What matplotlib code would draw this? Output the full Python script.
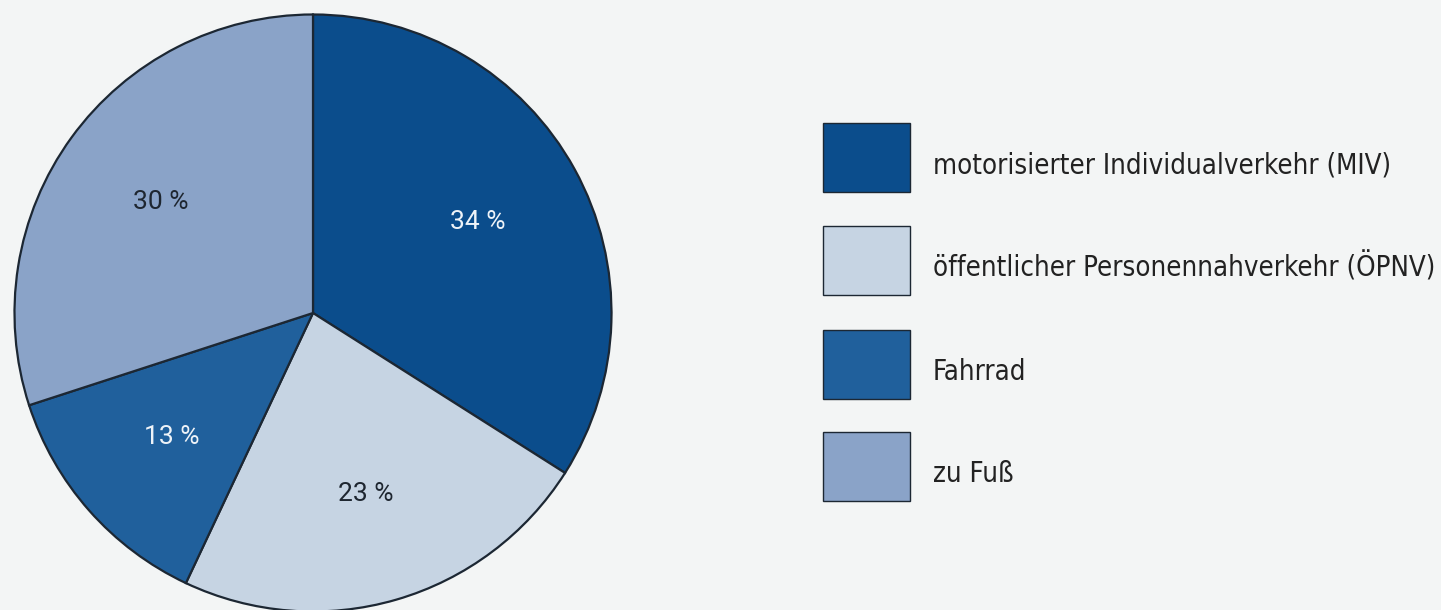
import matplotlib.pyplot as plt
from matplotlib.patches import Rectangle
from matplotlib import font_manager

# data
categories = ['motorisierter Individualverkehr (MIV)',
              'öffentlicher Personennahverkehr (ÖPNV)',
              'Fahrrad',
              'zu Fuß']
shares = [34, 23, 13, 30]
colors = ['#0b4d8c', '#c6d4e3', '#20609c', '#8aa3c8']
text_colors = ['#eef3f8', '#1e2630', '#eef3f8', '#1e2630']

bg = '#f3f5f5'
edge = '#1c2733'

# condensed face for the legend, the original uses one
cond = [f for f in font_manager.fontManager.ttflist
        if ('condensed' in f.fname.lower() or 'narrow' in f.fname.lower())
        and f.weight in (400, 'normal', 'regular') and f.style == 'normal']
if cond:
    legend_prop = font_manager.FontProperties(fname=cond[0].fname, size=19.8)
else:
    legend_prop = font_manager.FontProperties(family='Roboto', size=17)

W, H = 1441, 610
fig = plt.figure(figsize=(W / 100, H / 100), dpi=100, facecolor=bg)

# pie axes: centre at (313, 313) px from top, radius 300 px
ax = fig.add_axes([13 / W, -3 / H, 600 / W, 600 / H])
ax.set_facecolor(bg)
wedges, texts, autotexts = ax.pie(
    shares, colors=colors, startangle=90, counterclock=False, radius=1,
    autopct=lambda p: f'{p:.0f} %', pctdistance=0.63,
    wedgeprops=dict(edgecolor=edge, linewidth=1.6),
    textprops=dict(fontsize=19, family='Roboto'))
for t, c in zip(autotexts, text_colors):
    t.set_color(c)
ax.set_xlim(-1.005, 1.005)
ax.set_ylim(-1.005, 1.005)
ax.set_aspect('equal')
ax.axis('off')

# legend drawn as boxes in pixel coordinates
box_left, box_w, box_h = 823, 87, 69
box_tops = [123, 226, 330, 432]
for cat, col, top in zip(categories, colors, box_tops):
    fig.patches.append(Rectangle((box_left / W, (H - top - box_h) / H),
                                 box_w / W, box_h / H,
                                 transform=fig.transFigure, facecolor=col,
                                 edgecolor=edge, linewidth=1.0))
    baseline = top + box_h / 2 + 16
    fig.text(933 / W, (H - baseline) / H, cat, fontproperties=legend_prop,
             color='#222222', va='baseline', ha='left')

fig.savefig('out.png', dpi=100, facecolor=bg)
